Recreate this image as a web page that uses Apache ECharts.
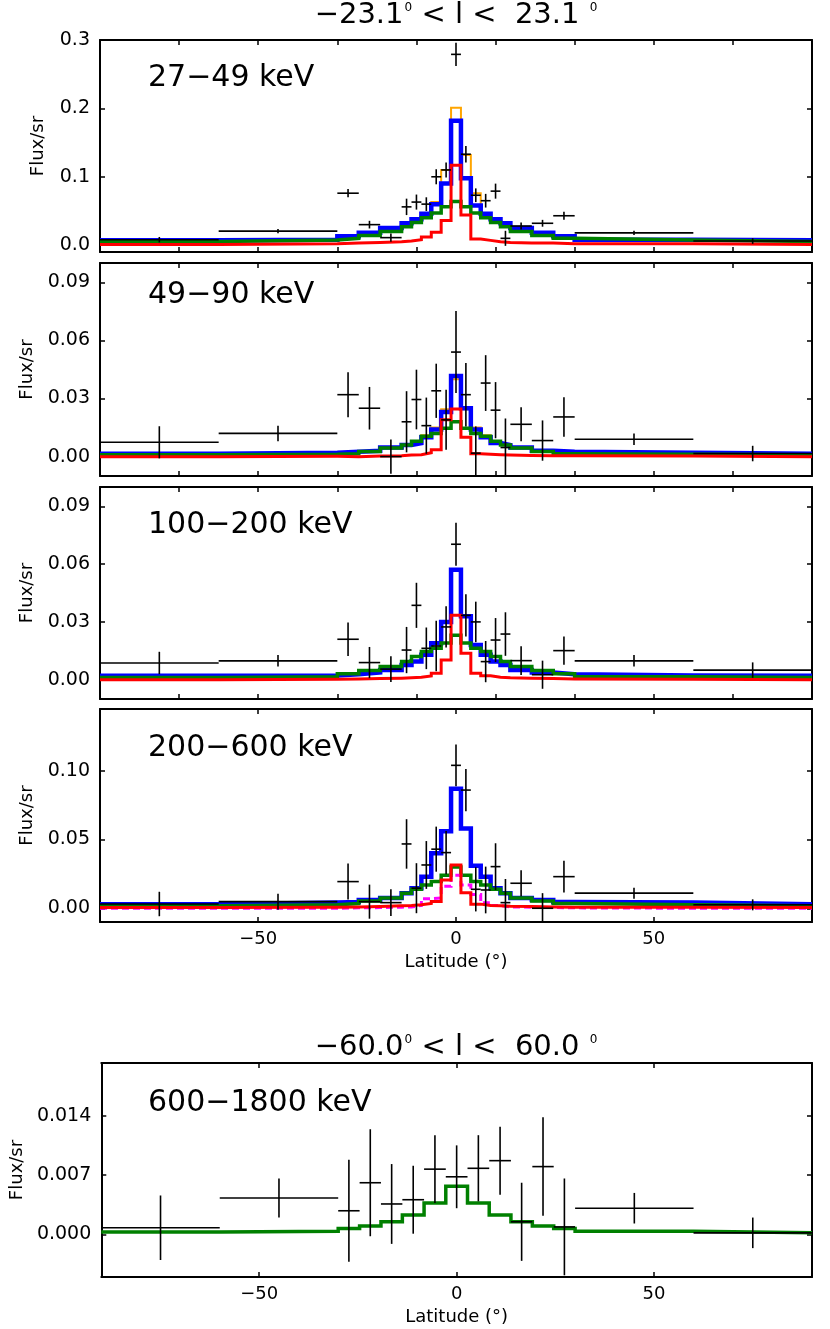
<!DOCTYPE html>
<html>
<head>
<meta charset="utf-8">
<script src="https://cdn.jsdelivr.net/npm/echarts@6/dist/echarts.min.js"></script>
<style>
  html, body { margin: 0; padding: 0; background: #fff; }
  #chart { width: 830px; height: 1329px; }
</style>
</head>
<body>
<div id="chart"></div>
<script>
// bin edges in latitude (deg)
const binEdges = [-90, -60, -30, -24.58, -19.17, -13.75, -11.25, -8.75, -6.25, -3.75, -1.25,
  1.25, 3.75, 6.25, 8.75, 11.25, 13.75, 19.17, 24.58, 30, 60, 90]
const binEdgesWide = [-90, -60, -30, -24.58, -19.17, -13.75, -8.25, -2.75, 2.75, 8.25, 13.75,
  19.17, 24.58, 30, 60, 90]

// 27-49 keV
const flux27 = [0.008, 0.0205, 0.076, 0.030, 0.011, 0.056, 0.063, 0.060, 0.100, 0.110, 0.279,
  0.133, 0.073, 0.065, 0.079, 0.010, 0.028, 0.032, 0.043, 0.018, 0.006]
const err27 = [0.004, 0.003, 0.006, 0.0056, 0.006, 0.012, 0.011, 0.010, 0.011, 0.011, 0.017,
  0.012, 0.010, 0.010, 0.011, 0.011, 0.005, 0.005, 0.006, 0.003, 0.004]
const blue27 = [0.007, 0.008, 0.013, 0.018, 0.025, 0.032, 0.038, 0.046, 0.060, 0.090, 0.182,
  0.098, 0.058, 0.046, 0.038, 0.032, 0.025, 0.018, 0.013, 0.008, 0.007]
const orange27 = [0.007, 0.008, 0.013, 0.018, 0.025, 0.032, 0.038, 0.046, 0.063, 0.110, 0.201,
  0.132, 0.076, 0.046, 0.038, 0.032, 0.025, 0.018, 0.013, 0.008, 0.007]
const green27 = [0.0055, 0.0075, 0.010, 0.014, 0.020, 0.027, 0.033, 0.040, 0.047, 0.056, 0.064,
  0.056, 0.047, 0.040, 0.033, 0.027, 0.020, 0.014, 0.010, 0.0075, 0.0055]
const red27 = [0.001, 0.002, 0.003, 0.004, 0.005, 0.006, 0.008, 0.012, 0.019, 0.036, 0.117,
  0.044, 0.009, 0.007, 0.005, 0.004, 0.003, 0.003, 0.002, 0.002, 0.001]

// 49-90 keV
const flux49 = [0.0074, 0.012, 0.032, 0.025, 0.000, 0.018, 0.0295, 0.016, 0.034, 0.019, 0.054,
  0.032, 0.0018, 0.038, 0.024, 0.0047, 0.0167, 0.0083, 0.0205, 0.009, 0.0016]
const err49 = [0.0083, 0.004, 0.0116, 0.011, 0.0088, 0.0158, 0.0154, 0.0145, 0.014, 0.0155, 0.0212,
  0.0164, 0.0138, 0.0144, 0.0145, 0.015, 0.0088, 0.0104, 0.0102, 0.003, 0.004]
const blue49 = [0.0015, 0.002, 0.0025, 0.003, 0.0047, 0.006, 0.007, 0.010, 0.014, 0.023, 0.0416,
  0.025, 0.014, 0.010, 0.007, 0.006, 0.0047, 0.003, 0.0025, 0.002, 0.0015]
const orange49 = [0.0015, 0.002, 0.0025, 0.003, 0.0047, 0.006, 0.007, 0.011, 0.015, 0.0245, 0.040,
  0.0245, 0.015, 0.011, 0.007, 0.006, 0.0047, 0.003, 0.0025, 0.002, 0.0015]
const green49 = [0.001, 0.0012, 0.0015, 0.0026, 0.0044, 0.006, 0.008, 0.0105, 0.012, 0.0146, 0.018,
  0.0146, 0.012, 0.0105, 0.008, 0.006, 0.0044, 0.0026, 0.0015, 0.0012, 0.001]
const red49 = [0.0, 0.0002, 0.0, 0.0003, 0.0005, 0.0008, 0.001, 0.002, 0.0035, 0.019, 0.0246,
  0.010, 0.0015, 0.0012, 0.001, 0.0008, 0.0006, 0.0005, 0.0004, 0.0003, 0.0]

// 100-200 keV
const flux100 = [0.0087, 0.0098, 0.021, 0.0089, 0.0055, 0.0154, 0.0386, 0.0163, 0.0175, 0.0274, 0.0703,
  0.0334, 0.030, 0.0094, 0.0206, 0.0237, 0.0099, 0.0026, 0.0151, 0.0098, 0.005]
const err100 = [0.0058, 0.003, 0.0087, 0.0081, 0.0067, 0.012, 0.0117, 0.0108, 0.0131, 0.0107, 0.0111,
  0.011, 0.0105, 0.0107, 0.0114, 0.0113, 0.0075, 0.0073, 0.0073, 0.003, 0.004]
const blue100 = [0.002, 0.0022, 0.0028, 0.0038, 0.0051, 0.0077, 0.0094, 0.0129, 0.0189, 0.030, 0.057,
  0.033, 0.018, 0.0129, 0.0094, 0.0077, 0.0051, 0.0038, 0.0028, 0.0022, 0.002]
const green100 = [0.0012, 0.0015, 0.0031, 0.0048, 0.0069, 0.0094, 0.012, 0.0146, 0.0163, 0.019, 0.0231,
  0.019, 0.0163, 0.0146, 0.012, 0.0094, 0.0069, 0.0048, 0.0031, 0.0015, 0.0012]
const red100 = [0.0, 0.0002, 0.0004, 0.0006, 0.0008, 0.001, 0.0013, 0.002, 0.0034, 0.0103, 0.0334,
  0.0137, 0.0034, 0.002, 0.0013, 0.001, 0.0008, 0.0006, 0.0004, 0.0002, 0.0]

// 200-600 keV
const flux200 = [0.0031, 0.0048, 0.0194, 0.0048, 0.0041, 0.0468, 0.0146, 0.0315, 0.043, 0.0405, 0.104,
  0.086, 0.0138, 0.0133, 0.0303, 0.0041, 0.0182, 0.000, 0.023, 0.011, 0.0025]
const err200 = [0.0089, 0.0058, 0.0131, 0.0124, 0.0097, 0.018, 0.0182, 0.0174, 0.0164, 0.0158, 0.0152,
  0.0154, 0.0161, 0.017, 0.017, 0.0172, 0.0095, 0.011, 0.0115, 0.004, 0.004]
const blue200 = [0.003, 0.0042, 0.0045, 0.006, 0.0075, 0.011, 0.0146, 0.023, 0.040, 0.056, 0.087,
  0.058, 0.031, 0.023, 0.0146, 0.011, 0.0075, 0.006, 0.0045, 0.0042, 0.003]
const green200 = [0.0018, 0.0025, 0.0034, 0.0053, 0.0075, 0.011, 0.0138, 0.017, 0.0194, 0.024, 0.030,
  0.024, 0.0194, 0.017, 0.0138, 0.011, 0.0075, 0.0053, 0.0034, 0.0025, 0.0018]
const magenta200 = [0.0, 0.0, 0.0003, 0.0005, 0.0008, 0.001, 0.002, 0.007, 0.0075, 0.016, 0.024,
  0.017, 0.010, 0.004, 0.002, 0.001, 0.0008, 0.0005, 0.0003, 0.0, 0.0]
const red200 = [0.0005, 0.0008, 0.001, 0.0013, 0.0018, 0.002, 0.0025, 0.0035, 0.005, 0.0206, 0.0315,
  0.0113, 0.003, 0.002, 0.0018, 0.0015, 0.0013, 0.001, 0.0008, 0.0008, 0.0005]

// 600-1800 keV
const flux600 = [0.0008, 0.0043, 0.0028, 0.0061, 0.0036, 0.0041, 0.0077, 0.0068, 0.0078, 0.0087,
  0.0015, 0.008, 0.0009, 0.0031, 0.0002]
const err600 = [0.0038, 0.0023, 0.006, 0.0063, 0.0047, 0.004, 0.004, 0.0037, 0.0039, 0.004,
  0.0046, 0.0058, 0.0057, 0.0018, 0.0018]
const green600 = [0.0003, 0.0004, 0.0007, 0.001, 0.0015, 0.0023, 0.0037, 0.0057, 0.0037, 0.0023,
  0.0015, 0.001, 0.0007, 0.0004, 0.0002]

const xTicksFine = [-70, -50, -30, -10, 10, 30, 50, 70]
const xTicksMain = [-50, 0, 50]

const FONT = 'DejaVu Sans'
const C = { blue: '#0000ff', green: '#008000', red: '#ff0000', orange: '#ffa500', magenta: '#ff00ff' }

// histogram outline as step line
const stepLine = (edges, vals) => {
  const pts = vals.map((v, i) => [edges[i], v])
  pts.push([edges[edges.length - 1], vals[vals.length - 1]])
  return pts
}
const crossData = (edges, vals, errs) =>
  vals.map((v, i) => [(edges[i] + edges[i + 1]) / 2, v, (edges[i + 1] - edges[i]) / 2, errs[i]])

const panels = [
  { top: 40, height: 212, ymin: -0.01, ymax: 0.3, yticks: [0, 0.1, 0.2, 0.3], dec: 1,
    label: '27−49 keV', labelY: 82, edges: binEdges, data: flux27, err: err27, xticks: xTicksFine, xlabels: false,
    models: [[orange27, C.orange, 2], [blue27, C.blue, 4.5], [green27, C.green, 3.5], [red27, C.red, 3]] },
  { top: 263, height: 213, ymin: -0.01, ymax: 0.1, yticks: [0, 0.03, 0.06, 0.09], dec: 2,
    label: '49−90 keV', labelY: 299, edges: binEdges, data: flux49, err: err49, xticks: xTicksFine, xlabels: false,
    models: [[orange49, C.orange, 2], [blue49, C.blue, 4.5], [green49, C.green, 3.5], [red49, C.red, 3]] },
  { top: 487, height: 212, ymin: -0.01, ymax: 0.1, yticks: [0, 0.03, 0.06, 0.09], dec: 2,
    label: '100−200 keV', labelY: 529, edges: binEdges, data: flux100, err: err100, xticks: xTicksFine, xlabels: false,
    models: [[blue100, C.blue, 4.5], [green100, C.green, 3.5], [red100, C.red, 3]] },
  { top: 709, height: 213, ymin: -0.01, ymax: 0.145, yticks: [0, 0.05, 0.10], dec: 2,
    label: '200−600 keV', labelY: 752, edges: binEdges, data: flux200, err: err200, xticks: xTicksMain, xlabels: true,
    models: [[blue200, C.blue, 4.5], [green200, C.green, 3.5], [magenta200, C.magenta, 3, 'dash'], [red200, C.red, 3]] },
  { top: 1063, height: 214, ymin: -0.005, ymax: 0.0202, yticks: [0, 0.007, 0.014], dec: 3,
    label: '600−1800 keV', labelY: 1107, edges: binEdgesWide, data: flux600, err: err600, xticks: xTicksMain, xlabels: true,
    models: [[green600, C.green, 3.5]] }
]

const grid = [], xAxis = [], yAxis = [], series = [], graphic = []
const frameLine = { show: true, onZero: false, lineStyle: { color: '#000', width: 2 } }
const tickStyle = { lineStyle: { color: '#000', width: 1.5 } }

panels.forEach((p, i) => {
  grid.push({ left: 100, width: 712, top: p.top, height: p.height })
  const xBase = { type: 'value', gridIndex: i, min: -90, max: 90, splitLine: { show: false }, axisLine: frameLine }
  xAxis.push({
    ...xBase, position: 'bottom',
    axisTick: { inside: true, length: 5, customValues: p.xticks, ...tickStyle },
    axisLabel: {
      show: p.xlabels, customValues: p.xticks, margin: 8, color: '#000', fontFamily: FONT, fontSize: 18,
      formatter: v => String(v).replace('-', '−')
    },
    name: p.xlabels ? 'Latitude (°)' : '', nameLocation: 'middle', nameGap: 31,
    nameTextStyle: { color: '#000', fontFamily: FONT, fontSize: 18 }
  })
  xAxis.push({
    ...xBase, position: 'top',
    axisTick: { inside: true, length: 5, customValues: p.xticks, ...tickStyle },
    axisLabel: { show: false }
  })
  const yBase = { type: 'value', gridIndex: i, min: p.ymin, max: p.ymax, splitLine: { show: false }, axisLine: frameLine }
  yAxis.push({
    ...yBase, position: 'left',
    axisTick: { inside: true, length: 5, customValues: p.yticks, ...tickStyle },
    axisLabel: {
      customValues: p.yticks, margin: 10, color: '#000', fontFamily: FONT, fontSize: 19,
      formatter: v => v.toFixed(p.dec)
    },
    name: 'Flux/sr', nameLocation: 'middle', nameGap: p.dec === 3 ? 66 : 53,
    nameTextStyle: { color: '#000', fontFamily: FONT, fontSize: 18 }
  })
  yAxis.push({
    ...yBase, position: 'right',
    axisTick: { inside: true, length: 5, customValues: p.yticks, ...tickStyle },
    axisLabel: { show: false }
  })

  p.models.forEach(([vals, color, width, dash], k) => {
    series.push({
      type: 'line', xAxisIndex: 2 * i, yAxisIndex: 2 * i, step: 'end', symbol: 'none',
      data: stepLine(p.edges, vals), z: 2 + k, animation: false, silent: true,
      lineStyle: { color, width, type: dash ? [7, 4] : 'solid', join: 'miter', cap: 'butt' }
    })
  })

  series.push({
    type: 'custom', xAxisIndex: 2 * i, yAxisIndex: 2 * i, clip: true, z: 10, animation: false, silent: true,
    data: crossData(p.edges, p.data, p.err),
    renderItem: (params, api) => {
      const x = api.value(0), y = api.value(1), hw = api.value(2), e = api.value(3)
      const a = api.coord([x - hw, y]), b = api.coord([x + hw, y])
      const c = api.coord([x, y - e]), d = api.coord([x, y + e])
      const st = { stroke: '#000', lineWidth: 1.6 }
      return {
        type: 'group',
        children: [
          { type: 'line', shape: { x1: a[0], y1: a[1], x2: b[0], y2: b[1] }, style: st },
          { type: 'line', shape: { x1: c[0], y1: c[1], x2: d[0], y2: d[1] }, style: st }
        ]
      }
    }
  })

  graphic.push({
    type: 'text', left: 148, top: p.labelY - 19,
    style: { text: p.label, fill: '#000', font: `30px "${FONT}"` }
  })
})

// panel titles with superscript degree marks
const titleRich = {
  m: { fontFamily: FONT, fontSize: 29, color: '#000', verticalAlign: 'bottom', lineHeight: 32 },
  s: { fontFamily: FONT, fontSize: 12, color: '#000', verticalAlign: 'top', lineHeight: 14, padding: [4, 0, 0, 1] }
}
const titles = [['−23.1', ' < l <  23.1 ', 14], ['−60.0', ' < l <  60.0 ', 1046]]
titles.forEach(([a, b, cy]) => {
  graphic.push({
    type: 'text', x: 456, y: cy,
    style: {
      text: `{m|${a}}{s|0}{m|${b}}{s|0}`, rich: titleRich,
      align: 'center', verticalAlign: 'middle'
    }
  })
})

const chart = echarts.init(document.getElementById('chart'))
chart.setOption({
  backgroundColor: '#fff',
  animation: false,
  grid, xAxis, yAxis, series, graphic
})
</script>
</body>
</html>
